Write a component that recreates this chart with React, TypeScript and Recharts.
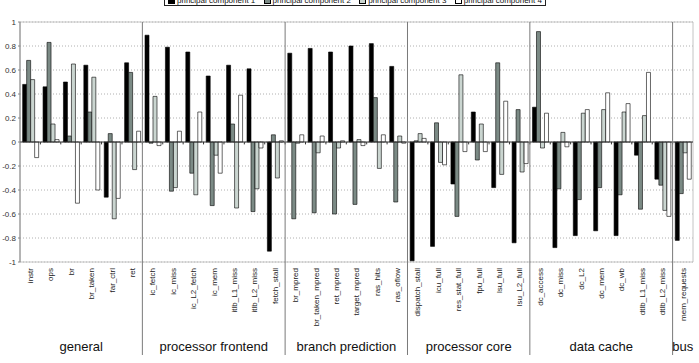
import { BarChart, Bar, XAxis, YAxis, CartesianGrid, ReferenceLine, ReferenceArea } from "recharts"

const categories = [
	"instr", "ops", "br", "br_taken", "far_ctrl", "ret",
	"ic_fetch", "ic_miss", "ic_L2_fetch", "ic_mem", "itlb_L1_miss", "itlb_L2_miss", "fetch_stall",
	"br_mpred", "br_taken_mpred", "ret_mpred", "target_mpred", "ras_hits", "ras_oflow",
	"dispatch_stall", "icu_full", "res_stat_full", "fpu_full", "lsu_full", "lsu_L2_full",
	"dc_access", "dc_miss", "dc_L2", "dc_mem", "dc_wb", "dtlb_L1_miss", "dtlb_L2_miss",
	"mem_requests",
]

const groupNames = ["general", "processor frontend", "branch prediction", "processor core", "data cache", "bus"]
const groupSizes = [6, 7, 6, 6, 7, 1]

const pc1 = [
	0.48, 0.46, 0.5, 0.64, -0.46, 0.66,
	0.89, 0.79, 0.75, 0.55, 0.64, 0.61, -0.91,
	0.74, 0.78, 0.75, 0.8, 0.82, 0.63,
	-0.99, -0.87, -0.35, 0.25, -0.38, -0.84,
	0.29, -0.88, -0.78, -0.74, -0.78, -0.11, -0.31,
	-0.82,
]
const pc2 = [
	0.68, 0.83, 0.05, 0.25, 0.07, 0.58,
	-0.01, -0.41, -0.26, -0.53, 0.15, -0.58, 0.06,
	-0.64, -0.59, -0.6, -0.52, 0.37, -0.5,
	0.01, 0.16, -0.62, -0.15, 0.66, 0.27,
	0.92, -0.39, -0.48, -0.38, -0.44, -0.56, -0.36,
	-0.43,
]
const pc3 = [
	0.52, 0.15, 0.65, 0.54, -0.64, -0.23,
	0.38, -0.38, -0.44, -0.11, -0.55, -0.39, -0.3,
	-0.01, -0.09, -0.05, 0.02, -0.22, 0.05,
	0.07, -0.17, 0.56, 0.15, -0.27, -0.25,
	-0.05, 0.08, 0.24, 0.27, 0.25, 0.22, -0.57,
	-0.09,
]
const pc4 = [
	-0.13, 0.02, -0.51, -0.4, -0.47, 0.09,
	-0.03, 0.09, 0.25, -0.26, 0.39, -0.05, 0.01,
	0.06, 0.05, 0.01, -0.03, 0.06, -0.01,
	0.03, -0.19, -0.08, -0.08, 0.34, -0.18,
	0.24, -0.04, 0.27, 0.41, 0.32, 0.58, -0.62,
	-0.31,
]

const seriesNames = ["principal component 1", "principal component 2", "principal component 3", "principal component 4"]
const seriesKeys = ["pc1", "pc2", "pc3", "pc4"]
const seriesColors = ["#000000", "#7b8a85", "#cad5d0", "#ffffff"]
const yTicks = [1, 0.8, 0.6, 0.4, 0.2, 0, -0.2, -0.4, -0.6, -0.8, -1]

const data = categories.map((name, i) => ({
	name,
	pc1: pc1[i],
	pc2: pc2[i],
	pc3: pc3[i],
	pc4: pc4[i],
}))

// index of first category of each group
const groupStarts = groupSizes.map((_, g) => groupSizes.slice(0, g).reduce((a, b) => a + b, 0))

function CategoryTick(props: any) {
	const { x, y, payload } = props
	const half = payload.offset ?? 0
	const idx = categories.indexOf(payload.value)
	const g = groupStarts.indexOf(idx)
	return (
		<g>
			<text
				x={x}
				y={y}
				dy="0.35em"
				transform={`rotate(-90 ${x} ${y})`}
				textAnchor="end"
				fontSize={8}
				fill="#222"
			>
				{payload.value}
			</text>
			{g > 0 && (
				<line x1={x - half} x2={x - half} y1={y - 6} y2={y + 87} stroke="#7a7a7a" />
			)}
			{g >= 0 && (
				<text x={x - half + groupSizes[g] * half} y={y + 83} textAnchor="middle" fontSize={13} fill="#111">
					{groupNames[g]}
				</text>
			)}
		</g>
	)
}

function LegendBox() {
	return (
		<div
			style={{
				position: "absolute",
				left: 164,
				top: -5,
				width: 382,
				height: 11,
				border: "1px solid #222",
				background: "#fff",
				display: "flex",
				alignItems: "center",
				justifyContent: "space-between",
				padding: "0 3px",
				boxSizing: "border-box",
				fontSize: 8,
				lineHeight: "9px",
				color: "#111",
				whiteSpace: "nowrap",
			}}
		>
			{seriesNames.map((n, i) => (
				<span key={n} style={{ display: "flex", alignItems: "center" }}>
					<span
						style={{
							width: 5,
							height: 5,
							border: "1px solid #000",
							background: seriesColors[i],
							marginRight: 2,
						}}
					/>
					{n}
				</span>
			))}
		</div>
	)
}

export default function App() {
	return (
		<div
			style={{
				position: "absolute",
				left: 0,
				top: 0,
				width: 699,
				height: 363,
				background: "#fff",
				fontFamily: "Arial, 'Liberation Sans', sans-serif",
				overflow: "hidden",
			}}
		>
			<BarChart
				width={699}
				height={363}
				data={data}
				margin={{ top: 22, right: 6, bottom: 0, left: 0 }}
				barCategoryGap="13%"
				barGap={0}
			>
				<CartesianGrid vertical={false} stroke="#b0b0b0" strokeDasharray="1 2" />
				<ReferenceArea y1={-1} y2={1} fill="none" stroke="#c4c4c4" />
				<XAxis
					dataKey="name"
					interval={0}
					height={101}
					tickSize={0}
					tickMargin={6}
					axisLine={false}
					tickLine={false}
					tick={<CategoryTick />}
				/>
				<YAxis
					width={20}
					domain={[-1, 1]}
					ticks={yTicks}
					interval={0}
					tickSize={2}
					tickMargin={2}
					axisLine={{ stroke: "#888" }}
					tickLine={{ stroke: "#888" }}
					tick={{ fontSize: 8, fill: "#333" }}
				/>
				{seriesKeys.map((k, i) => (
					<Bar
						key={k}
						dataKey={k}
						name={seriesNames[i]}
						fill={seriesColors[i]}
						stroke="#000"
						strokeWidth={0.6}
						isAnimationActive={false}
					/>
				))}
				<ReferenceLine y={0} stroke="#333" />
				{categories.slice(1).map((c) => (
					<ReferenceLine
						key={"t" + c}
						segment={[{ x: c, y: 0 }, { x: c, y: -0.02 }]}
						position="start"
						stroke="#333"
					/>
				))}
				{groupStarts.slice(1).map((s) => (
					<ReferenceLine key={"g" + s} x={categories[s]} position="start" stroke="#7a7a7a" />
				))}
			</BarChart>
			<LegendBox />
		</div>
	)
}
